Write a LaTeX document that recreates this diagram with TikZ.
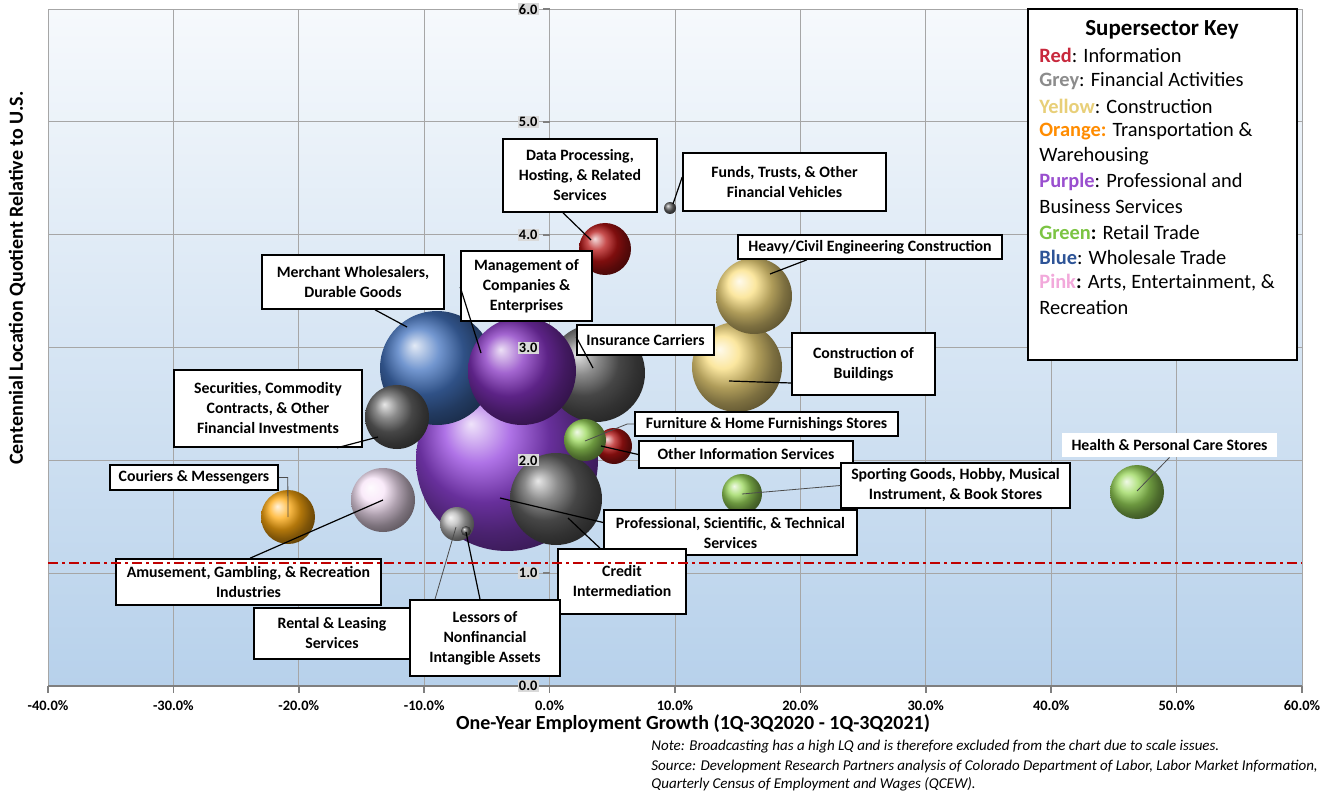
\documentclass[tikz,border=0pt]{standalone}
\usepackage{fontspec}
\setmainfont{Carlito}
\usepackage{xcolor}
\usetikzlibrary{calc}
\definecolor{plottop}{HTML}{F6F9FC}
\definecolor{plotmid}{HTML}{E6EEF7}
\definecolor{plotbot}{HTML}{B7D1EB}
\definecolor{gridc}{HTML}{A6A6A6}
\definecolor{axisc}{HTML}{7F7F7F}
\definecolor{lqred}{HTML}{C00000}
% bubble colours
\definecolor{redi}{HTML}{B51414}
\definecolor{greyd}{HTML}{646464}
\definecolor{greyl}{HTML}{B8B8B8}
\definecolor{yellc}{HTML}{FADF80}
\definecolor{bluew}{HTML}{4474C0}
\definecolor{purpm}{HTML}{8432C0}
\definecolor{purpbig}{HTML}{9444DE}
\definecolor{greenr}{HTML}{9AD85A}
\definecolor{orangec}{HTML}{FFAA10}
\definecolor{pinkc}{HTML}{F8E4F8}
% key colours
\definecolor{kred}{HTML}{C8283C}
\definecolor{kgrey}{HTML}{8C8C8C}
\definecolor{kyellow}{HTML}{E8CF78}
\definecolor{korange}{HTML}{FF8C00}
\definecolor{kpurple}{HTML}{9A4FCF}
\definecolor{kgreen}{HTML}{7CC443}
\definecolor{kblue}{HTML}{2E5497}
\definecolor{kpink}{HTML}{F2A9DB}
\newcommand\labfont{\bfseries\fontsize{7.9}{10}\selectfont}
\tikzset{
  gridline/.style={draw=gridc, line width=0.5pt},
  axisline/.style={draw=axisc, line width=0.8pt},
  lqline/.style={draw=lqred, line width=1.1pt, dash pattern=on 5pt off 2pt on 1.5pt off 2pt},
  bubble/.style={circle, inner sep=0pt, minimum size=#1pt},
  callout/.style={draw=black, fill=white, line width=0.8pt, align=center, font=\labfont, inner sep=0pt},
  plainbox/.style={fill=white, align=center, font=\labfont, inner sep=0pt},
  leader/.style={draw=black, line width=0.6pt},
  thinleader/.style={draw=black!70, line width=0.4pt},
  ytick/.style={fill=black!15, font=\bfseries\fontsize{7.2}{8}\selectfont, inner sep=0.6pt},
  xtick/.style={font=\bfseries\fontsize{7.2}{8}\selectfont, inner sep=0pt},
  axistitle/.style={font=\bfseries\fontsize{10}{12}\selectfont, inner sep=0pt},
  keybox/.style={draw=black, fill=white, line width=0.8pt},
  keyline/.style={font=\fontsize{10.2}{12}\selectfont, inner sep=0pt, anchor=west},
  note/.style={font=\itshape\fontsize{7.5}{9}\selectfont, inner sep=0pt, anchor=west},
}
\begin{document}
\begin{tikzpicture}[x=0.5pt,y=-0.5pt]
  \useasboundingbox (0,0) rectangle (1336,796);
  \fill[white] (0,0) rectangle (1336,796);

  % plot area and grid
  \shade[top color=plottop, middle color=plotmid, bottom color=plotbot] (48,10) rectangle (1302,686);
  \foreach \k in {1,...,5}
    \draw[gridline] (48,{686-112.8*\k}) -- (1302,{686-112.8*\k});
  \foreach \k in {1,...,9}
    \draw[gridline] ({48+125.4*\k},10) -- ({48+125.4*\k},686);
  \draw[gridline] (48,10) rectangle (1302,686);
  \draw[axisline] (48,686) -- (1302,686);
  \foreach \k in {0,...,10}
    \draw[axisline] ({48+125.4*\k},686) -- ++(0,7);
  \foreach \k in {0,...,6}
    \draw[axisline] (543,{686-112.8*\k}) -- (550,{686-112.8*\k});

  % bubbles, back to front
  \node[bubble=91, ball color=purpbig] (bProf) at (507,460) {};
  \node[bubble=57, ball color=bluew] (bMerch) at (437,368) {};
  \node[bubble=49, ball color=greyd] (bIns) at (596,373) {};
  \node[bubble=54, ball color=purpm] (bMgmt) at (522,371) {};
  \node[bubble=32, ball color=greyd] (bSec) at (397,417) {};
  \node[bubble=46, ball color=greyd] (bCred) at (556,499) {};
  \node[bubble=18, ball color=redi] (bOth) at (614,446) {};
  \node[bubble=21, ball color=greenr] (bFurn) at (585,440) {};
  \node[bubble=26, ball color=redi] (bData) at (605,249) {};
  \node[bubble=6, ball color=greyd] (bFund) at (670,208) {};
  \node[bubble=45, ball color=yellc] (bBldg) at (737,367) {};
  \node[bubble=38, ball color=yellc] (bHeavy) at (754,296) {};
  \node[bubble=20, ball color=greenr] (bSport) at (742,494) {};
  \node[bubble=27, ball color=greenr] (bHealth) at (1137,492) {};
  \node[bubble=27, ball color=orangec] (bCour) at (288,517) {};
  \node[bubble=32, ball color=pinkc] (bAmus) at (383,500) {};
  \node[bubble=17, ball color=greyl] (bRent) at (457,524) {};
  \node[bubble=5, ball color=greyd] (bLess) at (466,531) {};

  % y tick labels sit on the 0% line
  \foreach \v in {0,...,6}
    \node[ytick, anchor=east] (yt\v) at (539,{686-112.8*\v}) {\v.0};
  \foreach \p [count=\k from 0] in {-40,-30,...,60}
    \node[xtick] (xt\k) at ({48+125.4*\k},706) {\p.0\%};

  % callouts
  \node[callout, minimum width=77pt, minimum height=36.5pt] (tData) at (580,175.5) {Data Processing,\\Hosting, \& Related\\Services};
  \node[callout, minimum width=101.5pt, minimum height=29pt] (tFund) at (784.5,182) {Funds, Trusts, \& Other\\Financial Vehicles};
  \node[callout, minimum width=132pt, minimum height=12pt] (tHeavy) at (870,247) {Heavy/Civil Engineering Construction};
  \node[callout, minimum width=71.5pt, minimum height=31pt] (tBldg) at (863.5,364) {Construction of\\Buildings};
  \node[callout, minimum width=91pt, minimum height=27pt] (tMerch) at (353,282) {Merchant Wholesalers,\\Durable Goods};
  \node[callout, minimum width=65.5pt, minimum height=35pt] (tMgmt) at (526.5,286) {Management of\\Companies \&\\Enterprises};
  \node[callout, minimum width=68.5pt, minimum height=15pt] (tIns) at (645.5,340) {Insurance Carriers};
  \node[callout, minimum width=94pt, minimum height=38.5pt] (tSec) at (268,408.5) {Securities, Commodity\\Contracts, \& Other\\Financial Investments};
  \node[callout, minimum width=131.5pt, minimum height=12pt] (tFurn) at (766.5,424) {Furniture \& Home Furnishings Stores};
  \node[callout, minimum width=107pt, minimum height=13.5pt] (tOth) at (746,454.5) {Other Information Services};
  \node[callout, minimum width=114.5pt, minimum height=22.5pt] (tSport) at (955.5,485.5) {Sporting Goods, Hobby, Musical\\Instrument, \& Book Stores};
  \node[plainbox, minimum width=107.5pt, minimum height=12pt] (tHealth) at (1169.5,445) {Health \& Personal Care Stores};
  \node[callout, minimum width=84pt, minimum height=12.5pt] (tCour) at (194,477.5) {Couriers \& Messengers};
  \node[callout, minimum width=132.5pt, minimum height=23pt] (tAmus) at (248.5,582) {Amusement, Gambling, \& Recreation\\Industries};
  \node[callout, minimum width=126.5pt, minimum height=22.5pt] (tProf) at (730.5,532.5) {Professional, Scientific, \& Technical\\Services};
  \node[callout, minimum width=64pt, minimum height=32.5pt] (tCred) at (622,581.5) {Credit\\Intermediation};
  \node[callout, minimum width=78pt, minimum height=25.5pt] (tRent) at (332,633.5) {Rental \& Leasing\\Services};
  \node[callout, minimum width=75pt, minimum height=38pt] (tLess) at (485,638) {Lessors of\\Nonfinancial\\Intangible Assets};

  % leader lines
  \draw[leader] ([xshift=-8.5pt]tData.south) -- ([shift={(-14,-9)}]bData.center);
  \draw[leader] ([yshift=2.5pt]tFund.west) -- ([shift={(3,-4)}]bFund.center);
  \draw[leader] ([xshift=-31.5pt]tHeavy.south) -- ([shift={(16,-22)}]bHeavy.center);
  \draw[leader] ([yshift=-9.5pt]tBldg.west) -- ([shift={(-8,14)}]bBldg.center);
  \draw[leader] ([xshift=11pt]tMerch.south) -- ([shift={(-30,-41)}]bMerch.center);
  \draw[leader] ([yshift=-0.5pt]tMgmt.west) -- ([shift={(-41,-18)}]bMgmt.center);
  \draw[leader] ([yshift=1.5pt]tIns.west) -- ([shift={(-3,-5)}]bIns.center);
  \draw[leader] ([xshift=34.5pt]tSec.south) -- ([shift={(-19,20)}]bSec.center);
  \draw[thinleader] (tFurn.west) -- ++(-7,0) -- ([shift={(0,1)}]bFurn.center);
  \draw[leader] (tOth.west) -- ([shift={(-13,0)}]bOth.center);
  \draw[thinleader] (tSport.west) -- (bSport.center);
  \draw[thinleader] (tHealth.south) -- ([shift={(0,-1)}]bHealth.center);
  \draw[thinleader] (tCour.east) -- ++(9,0) -- (bCour.center);
  \draw[leader] ([xshift=0.75pt]tAmus.north) -- (bAmus.center);
  \draw[leader] ([yshift=5pt]tProf.west) -- ([shift={(-7,38)}]bProf.center);
  \draw[leader] ([xshift=-11pt]tCred.north) -- ([shift={(12,19)}]bCred.center);
  \draw[thinleader] ([xshift=-25pt]tLess.north) -- ([shift={(-1,3)}]bRent.center);
  \draw[leader] ([xshift=-2.5pt]tLess.north) -- ([shift={(0,1)}]bLess.center);

  % LQ = 1.09 reference line
  \draw[lqline] (48,563) -- (1302,563);

  % supersector key
  \node[keybox, minimum width=134.5pt, minimum height=175.5pt] (key) at (1162.5,184.5) {};
  \node[font=\bfseries\fontsize{11.5}{13}\selectfont, inner sep=0pt] (keyhead) at (1162,30) {Supersector Key};
  \foreach \txt [count=\i] in {
    {\textcolor{kred}{\textbf{Red}}: Information},
    {\textcolor{kgrey}{\textbf{Grey}}: Financial Activities},
    {\textcolor{kyellow}{\textbf{Yellow}}: Construction},
    {\textcolor{korange}{\textbf{Orange:}} Transportation \&},
    {Warehousing},
    {\textcolor{kpurple}{\textbf{Purple}}: Professional and},
    {Business Services},
    {\textcolor{kgreen}{\textbf{Green}}\textbf{:} Retail Trade},
    {\textcolor{kblue}{\textbf{Blue}}: Wholesale Trade},
    {\textcolor{kpink}{\textbf{Pink}}\textbf{:} Arts, Entertainment, \&},
    {Recreation}}
    \node[keyline] (key\i) at (1039,{30.5+25.2*\i}) {\txt};

  % axis titles and notes
  \node[axistitle, rotate=90] (ytitle) at (17,278) {Centennial Location Quotient Relative to U.S.};
  \node[axistitle] (xtitle) at (693,724) {One-Year Employment Growth (1Q-3Q2020 - 1Q-3Q2021)};
  \node[note] (note1) at (651,747) {Note: Broadcasting has a high LQ and is therefore excluded from the chart due to scale issues.};
  \node[note] (note2) at (651,766) {Source: Development Research Partners analysis of Colorado Department of Labor, Labor Market Information,};
  \node[note] (note3) at (651,784) {Quarterly Census of Employment and Wages (QCEW).};
\end{tikzpicture}
\end{document}
